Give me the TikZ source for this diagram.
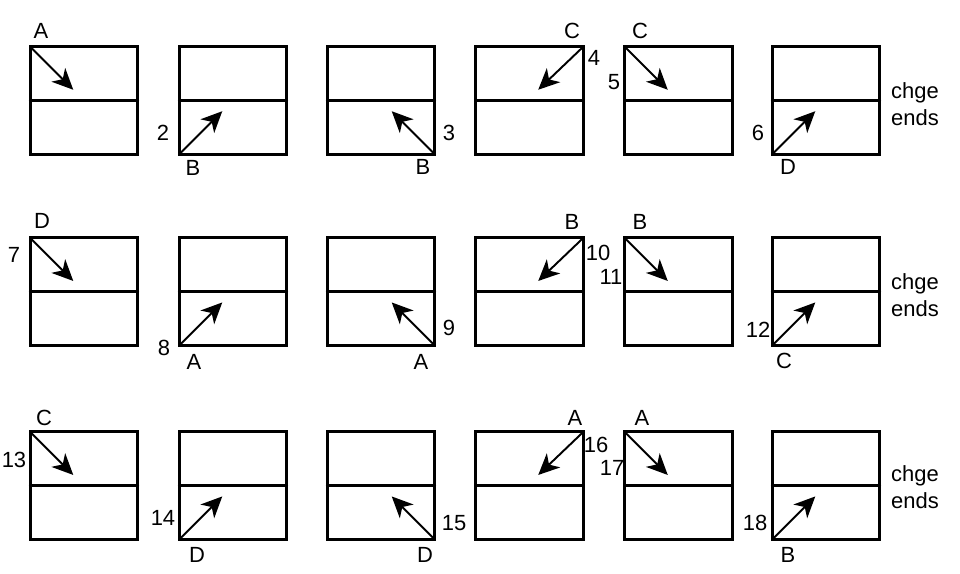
\documentclass[tikz,border=0pt]{standalone}
\usepackage{fontspec}
\setmainfont{Liberation Sans}
\usetikzlibrary{arrows.meta}
\tikzset{
  panel/.style={draw,line width=1.7pt,minimum size=2.15cm,inner sep=0pt,outer sep=0pt},
  split/.style={line width=1.5pt},
  move/.style={line width=1.1pt,-{Stealth[length=12pt,width=11pt,inset=3.5pt]}},
  tag/.style={inner sep=0pt,font=\fontsize{12.5}{14.5}\selectfont},
  note/.style={tag,align=left,font=\fontsize{12.5}{15}\selectfont}
}
\begin{document}
\begin{tikzpicture}[x=0.02cm,y=-0.02cm,line cap=round]
  \useasboundingbox (0,0) rectangle (960,574);
  % row 1
  \node[panel] (p1) at (84,100.5) {};   \node[panel] (p2) at (233,100.5) {};
  \node[panel] (p3) at (381,100.5) {};  \node[panel] (p4) at (529.5,100.5) {};
  \node[panel] (p5) at (678.5,100.5) {};\node[panel] (p6) at (826,100.5) {};
  \draw[move] (p1.north west) -- ++(43,43);  \draw[move] (p2.south west) -- ++(43,-43);
  \draw[move] (p3.south east) -- ++(-43,-43);\draw[move] (p4.north east) -- ++(-45,43);
  \draw[move] (p5.north west) -- ++(43,43);  \draw[move] (p6.south west) -- ++(43,-43);
  \node[tag] (a1) at (41,31) {A};   \node[tag] (n2) at (163,133) {2};  \node[tag] (b2) at (193,168) {B};
  \node[tag] (n3) at (449,133) {3}; \node[tag] (b3) at (423,167) {B};
  \node[tag] (c4) at (572,31) {C};  \node[tag] (n4) at (594,58) {4};
  \node[tag] (n5) at (614,82) {5};  \node[tag] (c5) at (640,31) {C};
  \node[tag] (n6) at (758,133) {6}; \node[tag] (d6) at (788,167) {D};
  \node[note] (e1) at (915,104) {chge\\ends};
  % row 2
  \node[panel] (p7) at (84,291.7) {};    \node[panel] (p8) at (233,291.7) {};
  \node[panel] (p9) at (381,291.7) {};   \node[panel] (p10) at (529.5,291.7) {};
  \node[panel] (p11) at (678.5,291.7) {};\node[panel] (p12) at (826,291.7) {};
  \draw[move] (p7.north west) -- ++(43,43);   \draw[move] (p8.south west) -- ++(43,-43);
  \draw[move] (p9.south east) -- ++(-43,-43); \draw[move] (p10.north east) -- ++(-45,43);
  \draw[move] (p11.north west) -- ++(43,43);  \draw[move] (p12.south west) -- ++(43,-43);
  \node[tag] (d7) at (42,221) {D};   \node[tag] (n7) at (14,255) {7};
  \node[tag] (n8) at (164,348) {8};  \node[tag] (a8) at (194,362) {A};
  \node[tag] (n9) at (449,328) {9};  \node[tag] (a9) at (421,362) {A};
  \node[tag] (b10) at (572,222) {B}; \node[tag] (n10) at (598,253) {10};
  \node[tag] (b11) at (640,222) {B}; \node[tag] (n11) at (611,277) {11};
  \node[tag] (n12) at (758,330) {12};\node[tag] (c12) at (784,361) {C};
  \node[note] (e2) at (915,295) {chge\\ends};
  % row 3
  \node[panel] (p13) at (84,485.7) {};   \node[panel] (p14) at (233,485.7) {};
  \node[panel] (p15) at (381,485.7) {};  \node[panel] (p16) at (529.5,485.7) {};
  \node[panel] (p17) at (678.5,485.7) {};\node[panel] (p18) at (826,485.7) {};
  \draw[move] (p13.north west) -- ++(43,43);  \draw[move] (p14.south west) -- ++(43,-43);
  \draw[move] (p15.south east) -- ++(-43,-43);\draw[move] (p16.north east) -- ++(-45,43);
  \draw[move] (p17.north west) -- ++(43,43);  \draw[move] (p18.south west) -- ++(43,-43);
  \node[tag] (c13) at (44,418) {C};  \node[tag] (n13) at (14,460) {13};
  \node[tag] (n14) at (163,518) {14};\node[tag] (d14) at (197,555) {D};
  \node[tag] (n15) at (454,523) {15};\node[tag] (d15) at (425,555) {D};
  \node[tag] (a16) at (575,418) {A}; \node[tag] (n16) at (596,445) {16};
  \node[tag] (a17) at (642,418) {A}; \node[tag] (n17) at (612,468) {17};
  \node[tag] (n18) at (755,523) {18};\node[tag] (b18) at (788,555) {B};
  \node[note] (e3) at (915,487) {chge\\ends};
  % middle lines
  \foreach \k in {1,...,18}
    \draw[split] (p\k.west) -- (p\k.east);
\end{tikzpicture}
\end{document}
